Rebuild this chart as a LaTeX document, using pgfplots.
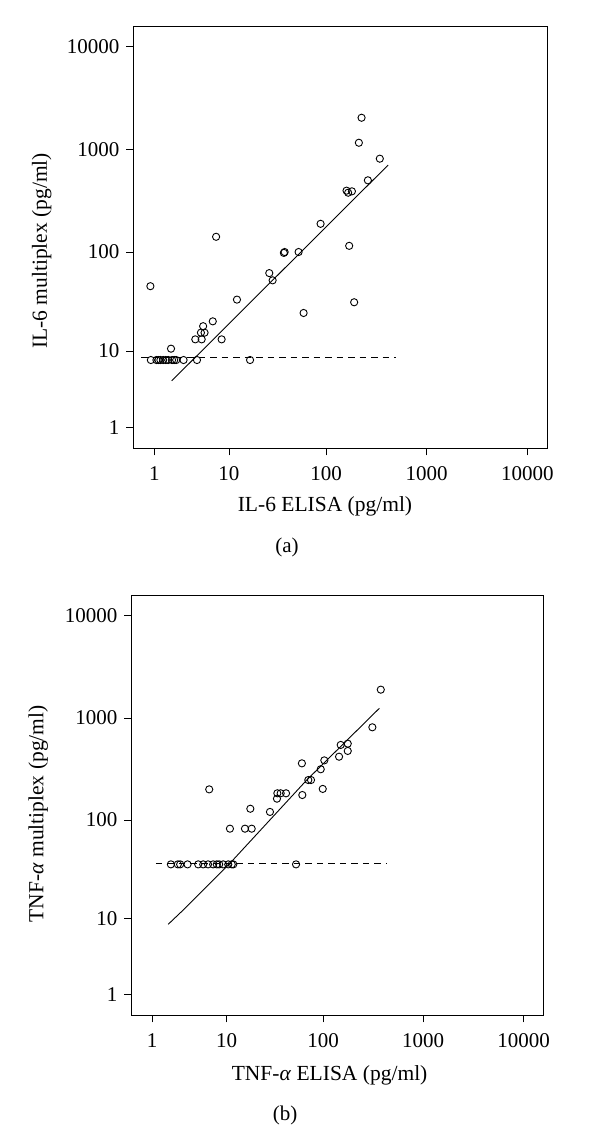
\documentclass[border=0pt]{standalone}
\usepackage{fontspec}
\setmainfont{Liberation Serif}
\usepackage{pgfplots}
\pgfplotsset{compat=1.18}
\pgfplotsset{
  x coord trafo/.code={\pgfmathparse{ln(#1+1)/ln(10)}},
  y coord trafo/.code={\pgfmathparse{ln(#1+1)/ln(10)}},
}
\pgfplotsset{
  panel/.style={
    scale only axis,
    anchor=south west,
    xmin=0.2388, xmax=15740, ymin=0.2474, ymax=15922,
    xtick={1,10,100,1000,10000}, xticklabels={1,10,100,1000,10000},
    ytick={1,10,100,1000,10000}, yticklabels={1,10,100,1000,10000},
    tick align=outside, xtick pos=left, ytick pos=left,
    major tick length=7pt,
    axis line style={line width=0.9pt},
    every tick/.style={black, line width=0.9pt},
    tick label style={font=\fontsize{21}{25}\selectfont},
    xticklabel style={yshift=-8pt},
    yticklabel style={xshift=-3.5pt},
    label style={font=\fontsize{21.5}{26}\selectfont},
    /pgf/number format/assume math mode=true,
    clip=false,
  },
  pts/.style={only marks, mark=o, mark size=3.6pt, mark options={line width=0.9pt, black}},
  fit/.style={black, line width=0.9pt, no marks},
  ref/.style={black, line width=0.9pt, no marks, dash pattern=on 6.5pt off 5pt},
}
\begin{document}
\begin{tikzpicture}
\useasboundingbox (0,0) rectangle (612pt,1142pt);
% ---------------- panel (a)
\begin{axis}[panel, at={(133.3pt,693.7pt)}, width=414pt, height=422.3pt,
  xlabel={IL-6 ELISA (pg/ml)}, ylabel={IL-6 multiplex (pg/ml)},
  xlabel style={at={(axis description cs:0.463,-0.1508)}, anchor=base},
  ylabel style={at={(axis description cs:-0.2085,0.4674)}, anchor=base}]
\addplot[pts] coordinates {
 (0.85,8.0) (1.1,8.0) (1.2,8.0) (1.3,8.0) (1.45,8.0) (1.6,8.0) (1.75,8.0)
 (2.0,8.0) (2.15,8.0) (2.3,8.0) (2.9,8.0) (4.3,8.0) (16.8,8.0)
 (0.83,46) (7.2,141) (88,189) (38.2,100) (37.5,98) (52.9,100) (170,115)
 (26.6,62) (28.8,52.6) (12.2,33.8) (190.6,31.8) (59.4,24.8) (6.6,20.4)
 (5.1,18.2) (4.8,15.6) (5.3,15.6) (4.1,13.3) (4.9,13.3) (8.3,13.3) (1.93,10.6)
 (225.8,2040) (212.3,1165) (343,815) (261,502) (160,398) (166,380) (181,392)
};
\addplot[fit] coordinates {(1.974,4.64) (415,707)};
\addplot[ref] coordinates {(0.477,8.64) (495,8.64)};
\end{axis}
\node[anchor=base, font=\fontsize{21}{25}\selectfont] at (287pt,589pt) {(a)};
% ---------------- panel (b)
\begin{axis}[panel, at={(131.3pt,126.7pt)}, width=412pt, height=420.3pt,
  xlabel={TNF-\textit{α} ELISA (pg/ml)}, ylabel={TNF-\textit{α} multiplex (pg/ml)},
  xlabel style={at={(axis description cs:0.4813,-0.1563)}, anchor=base},
  ylabel style={at={(axis description cs:-0.2136,0.479)}, anchor=base}]
\addplot[pts] coordinates {
 (2.07,36.2) (2.6,36.2) (2.8,36.2) (3.5,36.2) (4.75,36.2) (5.45,36.2) (6.2,36.2)
 (7.1,36.2) (7.8,36.2) (8.3,36.2) (9.2,36.2) (10.45,36.2) (11.4,36.2) (11.85,36.2)
 (53.2,36.2)
 (6.4,200) (10.9,82) (15.8,82) (18.6,82) (18,129) (28.8,120) (34,162)
 (34.3,183) (37.1,183) (42.1,183) (61.6,176) (61,360) (70.8,247) (75.4,247)
 (94.5,315) (99,202) (102.7,385) (144.4,418) (150,545) (176.5,561) (176.5,476)
 (311,811) (377.6,1892)
};
\addplot[fit] coordinates {(1.888,8.66) (3.07,12.3) (4.13,15.7) (10.9,37.1) (68.3,247) (365.7,1245)};
\addplot[ref] coordinates {(1.177,36.8) (426.6,36.8)};
\end{axis}
\node[anchor=base, font=\fontsize{21}{25}\selectfont] at (285pt,21.3pt) {(b)};
\end{tikzpicture}
\end{document}
